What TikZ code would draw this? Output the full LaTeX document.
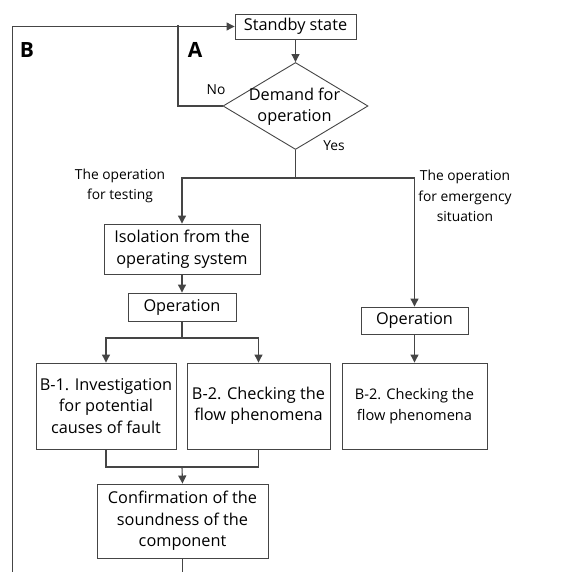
\documentclass[tikz,border=0pt]{standalone}
\usepackage{fontspec}
\setmainfont{Open Sans}
\usetikzlibrary{arrows.meta,shapes.geometric}
\definecolor{ln}{HTML}{454545}
\tikzset{
  box/.style={draw=ln,line width=0.9pt,inner sep=0pt,align=center,font=\fontsize{16.3}{21.5}\selectfont},
  lbl/.style={inner sep=0pt,align=center,font=\fontsize{13.8}{20.5}\selectfont},
  big/.style={inner sep=0pt,font=\fontsize{21}{24}\selectfont\bfseries},
  con/.style={draw=ln,line width=1.1pt},
  arr/.style={con,-{Triangle[length=8pt,width=8pt]}},
}
\begin{document}
\begin{tikzpicture}[x=1pt,y=-1pt]
\useasboundingbox (0,0) rectangle (562,572);
\node[box,minimum width=121pt,minimum height=25pt] (sb) at (295.5,26.5) {Standby state};
\node[draw=ln,line width=0.9pt,shape=diamond,minimum width=145pt,minimum height=87pt,inner sep=0pt] (dia) at (295.5,106) {};
\node[box,draw=none] (dtx) at (294.5,106.5) {Demand for\\operation};
\node[box,minimum width=156pt,minimum height=50pt] (iso) at (182,249) {Isolation from the\\operating system};
\node[box,minimum width=108pt,minimum height=28pt] (opl) at (182,307) {Operation};
\node[box,minimum width=140pt,minimum height=86pt] (b1) at (106,406) {B-1. Investigation\\for potential\\causes of fault};
\node[box,minimum width=143pt,minimum height=86pt] (b2) at (258.5,406) {B-2. Checking the\\flow phenomena};
\node[box,minimum width=107pt,minimum height=27pt] (opr) at (414.5,320.5) {Operation};
\node[box,minimum width=145pt,minimum height=86pt,font=\fontsize{14.6}{21}\selectfont] (b2r) at (414.5,406) {B-2. Checking the\\flow phenomena};
\node[box,minimum width=171pt,minimum height=74pt] (cf) at (182.5,521) {Confirmation of the\\soundness of the\\component};

\node[big] (lb) at (27,50) {B};
\node[big] (la) at (195,50) {A};
\node[lbl] (no) at (216,90) {No};
\node[lbl] (yes) at (334,146) {Yes};
\node[lbl] (tt) at (120,186) {The operation\\for testing};
\node[lbl] (te) at (465,196) {The operation\\for emergency\\situation};

\coordinate (bl) at (12.5,572);
\coordinate (aj) at (178,25);
\coordinate (yj) at (295.5,178);
\coordinate (oj) at (182,338);
\coordinate (mj) at (182,467);
\coordinate (cb) at (182.5,572);

\draw[arr] (bl) |- (sb.west);
\draw[con] (dia.west) -| (aj);
\draw[arr] (sb.south) -- (dia.north);
\draw[con] (dia.south) -- (yj);
\draw[arr] (yj) -| (iso.north);
\draw[arr] (yj) -| (opr.north);
\draw[arr] (iso.south) -- (opl.north);
\draw[con] (opl.south) -- (oj);
\draw[arr] (oj) -| (b1.north);
\draw[arr] (oj) -| (b2.north);
\draw[con] (b1.south) |- (mj) -| (b2.south);
\draw[arr] (mj) -- (cf.north);
\draw[arr] (opr.south) -- (b2r.north);
\draw[con] (cf.south) -- (cb);
\end{tikzpicture}
\end{document}
